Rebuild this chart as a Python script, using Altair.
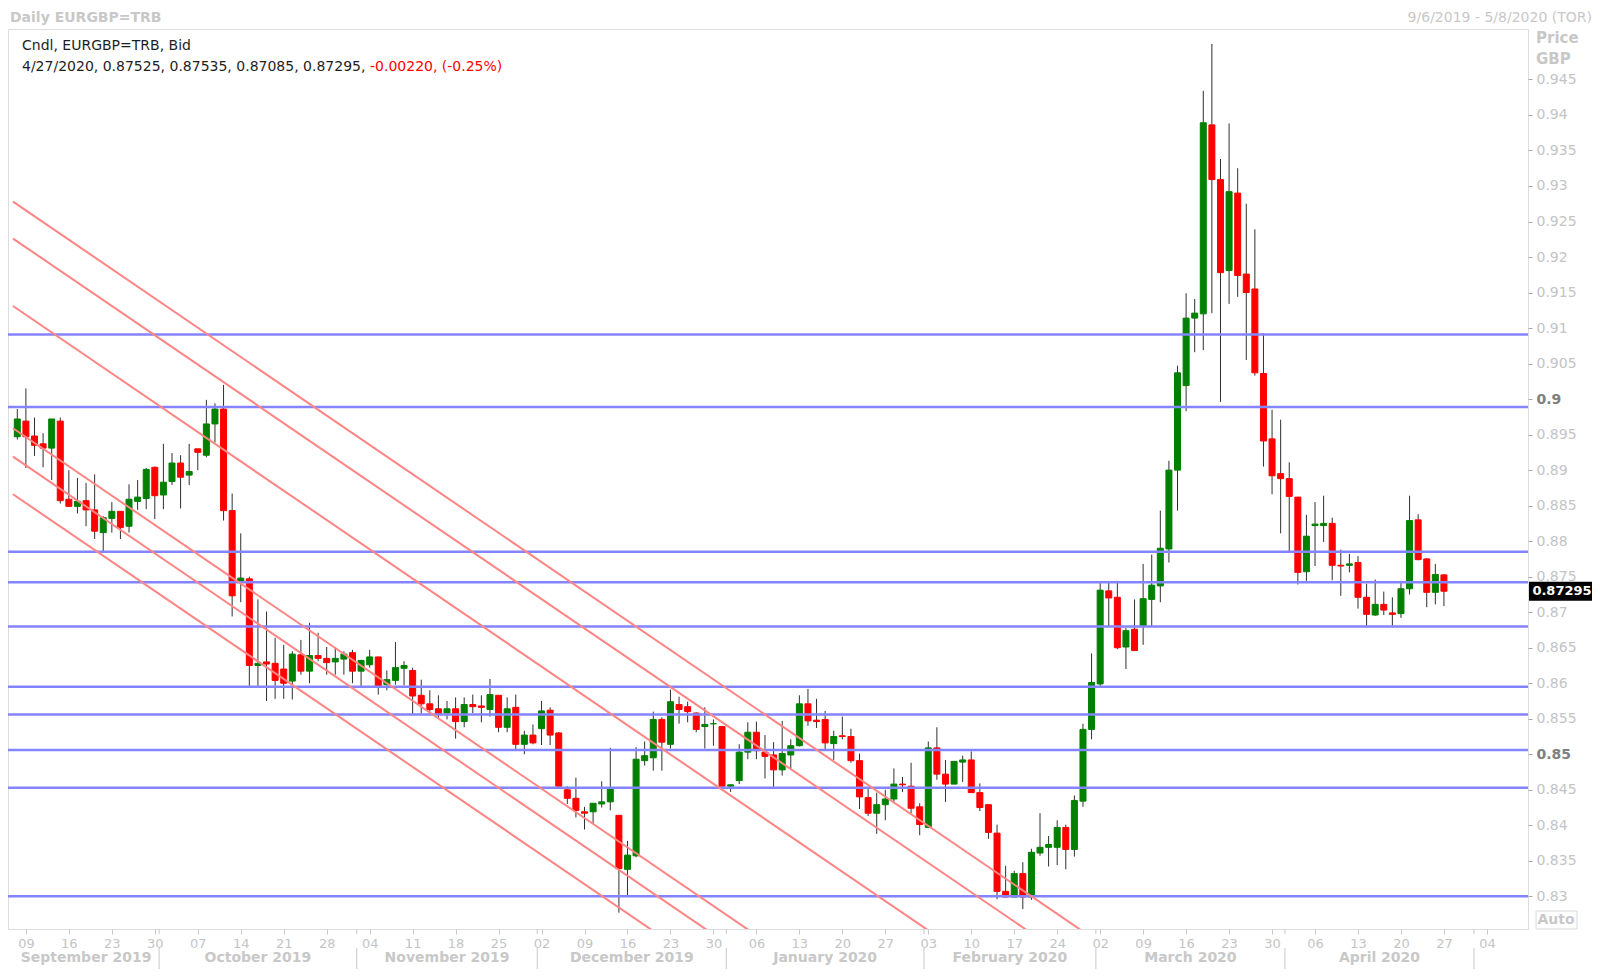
import altair as alt
import pandas as pd

# ---------------- data ----------------
opens = [0.8947, 0.8969, 0.8948, 0.8937, 0.8931, 0.8969, 0.8859, 0.8849, 0.8857, 0.8844,
         0.8812, 0.8832, 0.8842, 0.8821, 0.8856, 0.8860, 0.8904, 0.8865, 0.8884, 0.8910,
         0.8893, 0.8930, 0.8921, 0.8965, 0.8986, 0.8843, 0.8743, 0.8747, 0.8625, 0.8630,
         0.8628, 0.8620, 0.8603, 0.8640, 0.8617, 0.8639, 0.8635, 0.8630, 0.8634, 0.8643,
         0.8617, 0.8626, 0.8637, 0.8598, 0.8604, 0.8621, 0.8618, 0.8583, 0.8571, 0.8564,
         0.8558, 0.8564, 0.8546, 0.8570, 0.8568, 0.8563, 0.8583, 0.8538, 0.8566, 0.8514,
         0.8527, 0.8536, 0.8562, 0.8530, 0.8450, 0.8438, 0.8419, 0.8419, 0.8430, 0.8433,
         0.8414, 0.8338, 0.8357, 0.8491, 0.8495, 0.8549, 0.8514, 0.8570, 0.8567, 0.8558,
         0.8539, 0.8543, 0.8539, 0.8455, 0.8463, 0.8503, 0.8531, 0.8503, 0.8499, 0.8478,
         0.8499, 0.8512, 0.8571, 0.8548, 0.8549, 0.8515, 0.8526, 0.8525, 0.8491, 0.8439,
         0.8417, 0.8429, 0.8437, 0.8458, 0.8455, 0.8426, 0.8397, 0.8509, 0.8472, 0.8458,
         0.8489, 0.8492, 0.8446, 0.8429, 0.8389, 0.8307, 0.8299, 0.8332, 0.8299, 0.8361,
         0.8369, 0.8369, 0.8397, 0.8366, 0.8434, 0.8535, 0.8599, 0.8730, 0.8721, 0.8651,
         0.8676, 0.8681, 0.8718, 0.8737, 0.8789, 0.8900, 0.9019, 0.9114, 0.9120, 0.9386,
         0.9309, 0.9181, 0.9290, 0.9176, 0.9155, 0.9036, 0.8944, 0.8895, 0.8888, 0.8862,
         0.8757, 0.8822, 0.8822, 0.8825, 0.8766, 0.8766, 0.8770, 0.8721, 0.8696, 0.8711,
         0.8699, 0.8698, 0.8733, 0.8830, 0.8775, 0.8728, 0.87525]
highs = [0.8986, 0.9015, 0.8974, 0.8952, 0.8972, 0.8974, 0.8900, 0.8889, 0.8882, 0.8894,
         0.8835, 0.8855, 0.8842, 0.8880, 0.8886, 0.8903, 0.8905, 0.8937, 0.8924, 0.8921,
         0.8937, 0.8930, 0.8999, 0.8994, 0.9020, 0.8867, 0.8811, 0.8750, 0.8718, 0.8701,
         0.8664, 0.8654, 0.8645, 0.8661, 0.8685, 0.8671, 0.8651, 0.8650, 0.8645, 0.8647,
         0.8633, 0.8647, 0.8637, 0.8618, 0.8658, 0.8631, 0.8622, 0.8605, 0.8590, 0.8583,
         0.8575, 0.8580, 0.8580, 0.8584, 0.8583, 0.8606, 0.8583, 0.8580, 0.8584, 0.8533,
         0.8542, 0.8575, 0.8566, 0.8531, 0.8455, 0.8467, 0.8426, 0.8431, 0.8462, 0.8509,
         0.8414, 0.8378, 0.8510, 0.8518, 0.8560, 0.8552, 0.8591, 0.8581, 0.8574, 0.8559,
         0.8566, 0.8549, 0.8539, 0.8457, 0.8514, 0.8545, 0.8546, 0.8527, 0.8517, 0.8547,
         0.8521, 0.8583, 0.8592, 0.8578, 0.8561, 0.8533, 0.8553, 0.8536, 0.8501, 0.8453,
         0.8446, 0.8450, 0.8480, 0.8468, 0.8488, 0.8431, 0.8518, 0.8538, 0.8492, 0.8490,
         0.8498, 0.8504, 0.8459, 0.8429, 0.8401, 0.8343, 0.8336, 0.8348, 0.8367, 0.8417,
         0.8385, 0.8407, 0.8401, 0.8442, 0.8543, 0.8642, 0.8741, 0.8744, 0.8744, 0.8678,
         0.8718, 0.8768, 0.8781, 0.8843, 0.8913, 0.9047, 0.9149, 0.9141, 0.9434, 0.9500,
         0.9338, 0.9388, 0.9325, 0.9275, 0.9239, 0.9093, 0.8985, 0.8971, 0.8911, 0.8862,
         0.8837, 0.8855, 0.8864, 0.8833, 0.8788, 0.8782, 0.8779, 0.8740, 0.8746, 0.8729,
         0.8721, 0.8744, 0.8864, 0.8838, 0.8776, 0.8768, 0.87535]
lows = [0.8943, 0.8903, 0.8920, 0.8904, 0.8886, 0.8853, 0.8849, 0.8839, 0.8821, 0.8803,
        0.8786, 0.8812, 0.8803, 0.8812, 0.8844, 0.8845, 0.8831, 0.8845, 0.8879, 0.8846,
        0.8879, 0.8900, 0.8918, 0.8939, 0.8829, 0.8694, 0.8714, 0.8596, 0.8596, 0.8575,
        0.8578, 0.8578, 0.8577, 0.8612, 0.8600, 0.8631, 0.8612, 0.8612, 0.8612, 0.8600,
        0.8596, 0.8622, 0.8584, 0.8590, 0.8598, 0.8597, 0.8556, 0.8557, 0.8557, 0.8551,
        0.8549, 0.8522, 0.8538, 0.8558, 0.8545, 0.8553, 0.8531, 0.8531, 0.8507, 0.8500,
        0.8514, 0.8513, 0.8513, 0.8455, 0.8430, 0.8411, 0.8394, 0.8402, 0.8425, 0.8421,
        0.8277, 0.8301, 0.8355, 0.8484, 0.8477, 0.8477, 0.8508, 0.8543, 0.8545, 0.8531,
        0.8508, 0.8512, 0.8455, 0.8447, 0.8458, 0.8493, 0.8493, 0.8466, 0.8454, 0.8470,
        0.8478, 0.8511, 0.8540, 0.8537, 0.8507, 0.8492, 0.8521, 0.8488, 0.8423, 0.8413,
        0.8388, 0.8407, 0.8432, 0.8447, 0.8417, 0.8386, 0.8397, 0.8464, 0.8433, 0.8458,
        0.8461, 0.8446, 0.8420, 0.8381, 0.8296, 0.8299, 0.8299, 0.8282, 0.8295, 0.8357,
        0.8342, 0.8344, 0.8338, 0.8356, 0.8426, 0.8521, 0.8596, 0.8680, 0.8648, 0.8620,
        0.8646, 0.8654, 0.8680, 0.8714, 0.8770, 0.8843, 0.8983, 0.9066, 0.9069, 0.9121,
        0.8996, 0.9134, 0.9144, 0.9055, 0.9033, 0.8905, 0.8866, 0.8811, 0.8784, 0.8739,
        0.8744, 0.8765, 0.8799, 0.8745, 0.8723, 0.8756, 0.8705, 0.8681, 0.8695, 0.8696,
        0.8681, 0.8692, 0.8725, 0.8773, 0.8707, 0.8711, 0.87085]
closes = [0.8972, 0.8947, 0.8935, 0.8931, 0.8972, 0.8857, 0.8849, 0.8856, 0.8844, 0.8814,
          0.8833, 0.8842, 0.8819, 0.8859, 0.8862, 0.8901, 0.8864, 0.8883, 0.8910, 0.8890,
          0.8898, 0.8925, 0.8965, 0.8986, 0.8843, 0.8723, 0.8748, 0.8625, 0.8628, 0.8627,
          0.8604, 0.8600, 0.8641, 0.8617, 0.8639, 0.8635, 0.8629, 0.8635, 0.8641, 0.8617,
          0.8632, 0.8637, 0.8596, 0.8605, 0.8622, 0.8625, 0.8582, 0.8571, 0.8563, 0.8557,
          0.8564, 0.8546, 0.8570, 0.8567, 0.8566, 0.8584, 0.8538, 0.8564, 0.8514, 0.8527,
          0.8516, 0.8561, 0.8527, 0.8455, 0.8438, 0.8421, 0.8417, 0.8431, 0.8433, 0.8451,
          0.8339, 0.8358, 0.8493, 0.8498, 0.8549, 0.8517, 0.8574, 0.8563, 0.8560, 0.8535,
          0.8542, 0.8543, 0.8455, 0.8457, 0.8503, 0.8531, 0.8505, 0.8497, 0.8478, 0.8501,
          0.8512, 0.8571, 0.8547, 0.8546, 0.8516, 0.8525, 0.8525, 0.8491, 0.8440, 0.8417,
          0.8429, 0.8437, 0.8458, 0.8457, 0.8424, 0.8401, 0.8509, 0.8472, 0.8458, 0.8490,
          0.8492, 0.8446, 0.8425, 0.8390, 0.8307, 0.8299, 0.8332, 0.8299, 0.8362, 0.8369,
          0.8373, 0.8397, 0.8366, 0.8435, 0.8535, 0.8601, 0.8731, 0.8720, 0.8650, 0.8674,
          0.8646, 0.8719, 0.8738, 0.8790, 0.8900, 0.9037, 0.9114, 0.9121, 0.9389, 0.9309,
          0.9178, 0.9292, 0.9174, 0.9150, 0.9037, 0.8941, 0.8892, 0.8888, 0.8863, 0.8756,
          0.8807, 0.8824, 0.8825, 0.8766, 0.8765, 0.8768, 0.8721, 0.8697, 0.8711, 0.8703,
          0.8697, 0.8733, 0.8829, 0.8774, 0.8728, 0.8753, 0.87295]

# weekday slot of each Monday tick and its label
monday_slots = [1, 6, 11, 16, 21, 26, 31, 36, 41, 46, 51, 56, 61, 66, 71, 76, 81, 86, 91, 96,
                101, 106, 111, 116, 121, 126, 131, 136, 141, 146, 151, 156, 161, 166, 171]
monday_labels = ["09", "16", "23", "30", "07", "14", "21", "28", "04", "11", "18", "25",
                 "02", "09", "16", "23", "30", "06", "13", "20", "27", "03", "10", "17", "24",
                 "02", "09", "16", "23", "30", "06", "13", "20", "27", "04"]

month_names = ["September 2019", "October 2019", "November 2019", "December 2019",
               "January 2020", "February 2020", "March 2020", "April 2020"]
month_from = [-0.5, 16.5, 39.5, 60.5, 82.5, 105.5, 125.5, 147.5]
month_to = [16.5, 39.5, 60.5, 82.5, 105.5, 125.5, 147.5, 169.5]
month_breaks = [16.5, 39.5, 60.5, 82.5, 105.5, 125.5, 147.5, 169.5]

# horizontal support / resistance lines
level_prices = [0.9091, 0.8989, 0.8785, 0.8742, 0.8680, 0.8595, 0.8556, 0.8506, 0.8453, 0.8300]

# descending channel lines (start slot/price, end slot/price)
trend_x0 = [-0.5, -0.5, -0.5, -0.5, -0.5, -0.5]
trend_p0 = [0.9278, 0.9226, 0.9131, 0.8959, 0.8919, 0.8866]
trend_x1 = [130, 130, 130, 130, 130, 130]
trend_p1 = [0.8201, 0.8149, 0.8054, 0.7882, 0.7842, 0.7789]

y_ticks = [0.83, 0.835, 0.84, 0.845, 0.85, 0.855, 0.86, 0.865, 0.87, 0.875, 0.88, 0.885,
           0.89, 0.895, 0.9, 0.905, 0.91, 0.915, 0.92, 0.925, 0.93, 0.935, 0.94, 0.945]
bold_ticks = [0.9, 0.85]

title_left = "Daily EURGBP=TRB"
title_right = "9/6/2019 - 5/8/2020 (TOR)"
legend_line1 = "Cndl, EURGBP=TRB, Bid"
legend_line2 = "4/27/2020, 0.87525, 0.87535, 0.87085, 0.87295,"
legend_change = "-0.00220, (-0.25%)"
last_price = 0.87295
last_label = "0.87295"

# ---------------- chart ----------------
FONT = "DejaVu Sans"
W, H = 1520, 900
XDOM = [-0.5, 175.2]
YDOM = [0.8254, 0.9521]

df = pd.DataFrame({"open": opens, "high": highs, "low": lows, "close": closes})
df["slot"] = range(len(df))
df["dir"] = ["up" if c >= o else "down" for o, c in zip(opens, closes)]

xs = alt.Scale(domain=XDOM, nice=False, zero=False)
ys = alt.Scale(domain=YDOM, nice=False, zero=False)

label_expr = ("[" + ",".join(f"'{s}'" for s in monday_labels) + "][indexof(["
              + ",".join(str(v) for v in monday_slots) + "], datum.value)]")
bold_test = " || ".join(f"datum.value == {v}" for v in bold_ticks)

x_axis = alt.Axis(values=monday_slots, labelExpr=label_expr, title=None, grid=False,
                  domain=False, tickSize=5, tickColor="#c8c8c8", labelColor="#c4c4c4",
                  labelFont=FONT, labelFontSize=13, labelPadding=3, labelOverlap=False,
                  labelBound=False, labelFlush=False)
y_axis = alt.Axis(values=y_ticks, format=".3~f", orient="right", title=None, grid=False,
                  domain=False, tickSize=4, tickColor="#a8a8a8", labelFont=FONT,
                  labelFontSize=14, labelPadding=4, labelOverlap=False, labelBound=False,
                  labelFlush=False,
                  labelColor={"condition": {"test": bold_test, "value": "#808080"}, "value": "#c4c4c4"},
                  labelFontWeight={"condition": {"test": bold_test, "value": "bold"}, "value": "normal"})


def X(field):
    return alt.X(field, scale=xs, axis=x_axis)


def Y(field):
    return alt.Y(field, scale=ys, axis=y_axis)


base = alt.Chart(df)
wicks = base.mark_rule(color="#303030", strokeWidth=1).encode(
    x=X("slot:Q"), y=Y("low:Q"), y2="high:Q")
color_scale = alt.Scale(domain=["up", "down"], range=["#008000", "#ff0000"])
bodies = base.mark_bar(size=6, strokeWidth=1).encode(
    x=X("slot:Q"), y=Y("open:Q"), y2="close:Q",
    color=alt.Color("dir:N", scale=color_scale, legend=None),
    stroke=alt.Stroke("dir:N", scale=color_scale, legend=None),
)

levels = alt.Chart(pd.DataFrame({"price": level_prices})).mark_rule(
    color="#8484ff", strokeWidth=2.5).encode(y=Y("price:Q"))

trends = alt.Chart(pd.DataFrame({"x0": trend_x0, "p0": trend_p0, "x1": trend_x1, "p1": trend_p1})
                   ).mark_rule(color="#ff8484", strokeWidth=2, clip=True).encode(
    x=X("x0:Q"), x2="x1:Q", y=Y("p0:Q"), y2="p1:Q")

months = alt.Chart(pd.DataFrame({"name": month_names, "a": month_from, "b": month_to})
                   ).transform_calculate(mid="(datum.a + datum.b) / 2").mark_text(
    font=FONT, fontSize=14, fontWeight="bold", color="#c8c8c8", baseline="middle").encode(
    x=X("mid:Q"), y=alt.value(H + 29), text="name:N")

breaks_df = pd.DataFrame({"b": month_breaks})
month_seps = alt.Chart(breaks_df).mark_rule(color="#c8c8c8", strokeWidth=1).encode(
    x=X("b:Q"), y=alt.value(H + 19), y2=alt.value(H + 40))
month_ticks = alt.Chart(breaks_df).mark_rule(color="#c8c8c8", strokeWidth=1).encode(
    x=X("b:Q"), y=alt.value(H), y2=alt.value(H + 5))


def label(text, x, y, size=14, color="#1e1e1e", weight="normal", align="left"):
    return alt.Chart(pd.DataFrame({"t": [text]})).mark_text(
        font=FONT, fontSize=size, fontWeight=weight, color=color, align=align,
        baseline="middle").encode(x=alt.value(x), y=alt.value(y), text="t:N")


texts = [
    label(title_left, 2, -11, size=14, color="#c8c8c8", weight="bold"),
    label(title_right, 1584, -11, size=14, color="#c8c8c8", align="right"),
    label(legend_line1, 14, 17),
    label(legend_line2, 14, 38),
    label(legend_change, 362, 38, color="#ff0000"),
    label("Price", 1528, 9, size=15, color="#c8c8c8", weight="bold"),
    label("GBP", 1528, 30, size=15, color="#c8c8c8", weight="bold"),
    label("Auto", 1548, 891, size=14, color="#c8c8c8", weight="bold", align="center"),
]

auto_box = alt.Chart(pd.DataFrame({"t": ["Auto"]})).mark_rect(
    fill="white", stroke="#d8d8d8", strokeWidth=1).encode(
    x=alt.value(1528), x2=alt.value(1569), y=alt.value(882), y2=alt.value(900))

last_df = pd.DataFrame({"p": [last_price], "t": [last_label]})
last_box = alt.Chart(last_df).mark_rule(color="black", strokeWidth=19, strokeCap="butt").encode(
    x=alt.value(1521), x2=alt.value(1588), y=Y("p:Q"))
last_text = alt.Chart(last_df).mark_text(font=FONT, fontSize=13, fontWeight="bold",
                                         color="white", align="center", baseline="middle").encode(
    x=alt.value(1554), y=Y("p:Q"), text="t:N")

chart = alt.layer(
    wicks, bodies, levels, trends, months, month_seps, month_ticks, auto_box, *texts,
    last_box, last_text,
).resolve_scale(color="independent").properties(
    width=W, height=H,
    autosize=alt.AutoSizeParams(type="none"),
    padding={"left": 0, "top": 21, "right": 64, "bottom": 41},
).configure_view(stroke="#a8a8a8", strokeWidth=2).configure_axis(
    labelOverlap=False).configure(background="white")

chart.save("out.html", embed_options={"renderer": "svg", "actions": False})
